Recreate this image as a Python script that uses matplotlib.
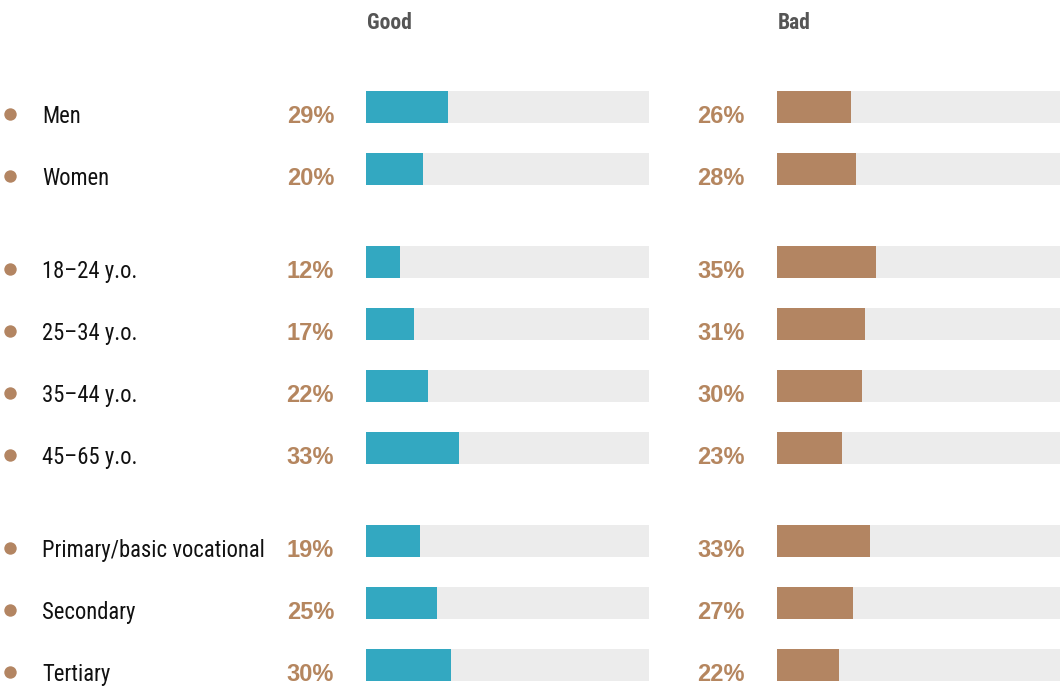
import matplotlib.pyplot as plt
from matplotlib import font_manager

# Survey breakdown: share answering "Good" and "Bad", by group
labels = ["Men", "Women",
          "18–24 y.o.", "25–34 y.o.", "35–44 y.o.", "45–65 y.o.",
          "Primary/basic vocational", "Secondary", "Tertiary"]
group_of = [0, 0, 1, 1, 1, 1, 2, 2, 2]
good = [29, 20, 12, 17, 22, 33, 19, 25, 30]
bad = [26, 28, 35, 31, 30, 23, 33, 27, 22]
headers = ["Good", "Bad"]

TEAL = "#33a8c1"
BROWN = "#b38562"
TRACK = "#ececec"
PCT = "#b5865f"
HEAD = "#555555"

# pick a narrow face for the row labels if one is installed
installed = {f.name for f in font_manager.fontManager.ttflist}
narrow = next((n for n in ["Liberation Sans Narrow", "Roboto Condensed",
                           "Open Sans Condensed", "Noto Sans Display",
                           "Roboto"] if n in installed), "DejaVu Sans")

# row positions: one unit per row, half a unit between groups
pos = [i + 0.5 * g for i, g in enumerate(group_of)]
bar_h = 32 / 62
top, bottom = -107 / 62, (686 - 107) / 62

fig = plt.figure(figsize=(10.62, 6.86), dpi=100)

bg = fig.add_axes([0, 0, 1, 1])
bg.set_xlim(0, 1062)
bg.set_ylim(bottom, top)
bg.axis("off")

cols = [(366, good, TEAL), (777, bad, BROWN)]
for (x0, vals, color), head in zip(cols, headers):
    ax = fig.add_axes([x0 / 1062, 0, 283 / 1062, 1])
    ax.barh(pos, [100] * len(vals), height=bar_h, color=TRACK)
    ax.barh(pos, vals, height=bar_h, color=color)
    ax.set_xlim(0, 100)
    ax.set_ylim(bottom, top)
    ax.axis("off")
    # percentage labels to the left of each track
    for p, v in zip(pos, vals):
        bg.text(x0 - 32, p + bar_h / 2, f"{v}%", ha="right", va="baseline",
                fontsize=17, fontweight="bold", color=PCT,
                family="Liberation Sans")
    bg.text(x0 + 1, (29 - 107) / 62, head, ha="left", va="baseline",
            fontsize=15.5, fontweight="bold", color=HEAD, family=narrow)

# bullets and row names
bg.scatter([10] * len(pos), [p + 7 / 62 for p in pos], s=80, color=BROWN,
           linewidths=0)
for p, lab in zip(pos, labels):
    bg.text(42, p + bar_h / 2, lab, ha="left", va="baseline",
            fontsize=16.3, color="#111111", family=narrow)

plt.savefig("out.png", dpi=100)
